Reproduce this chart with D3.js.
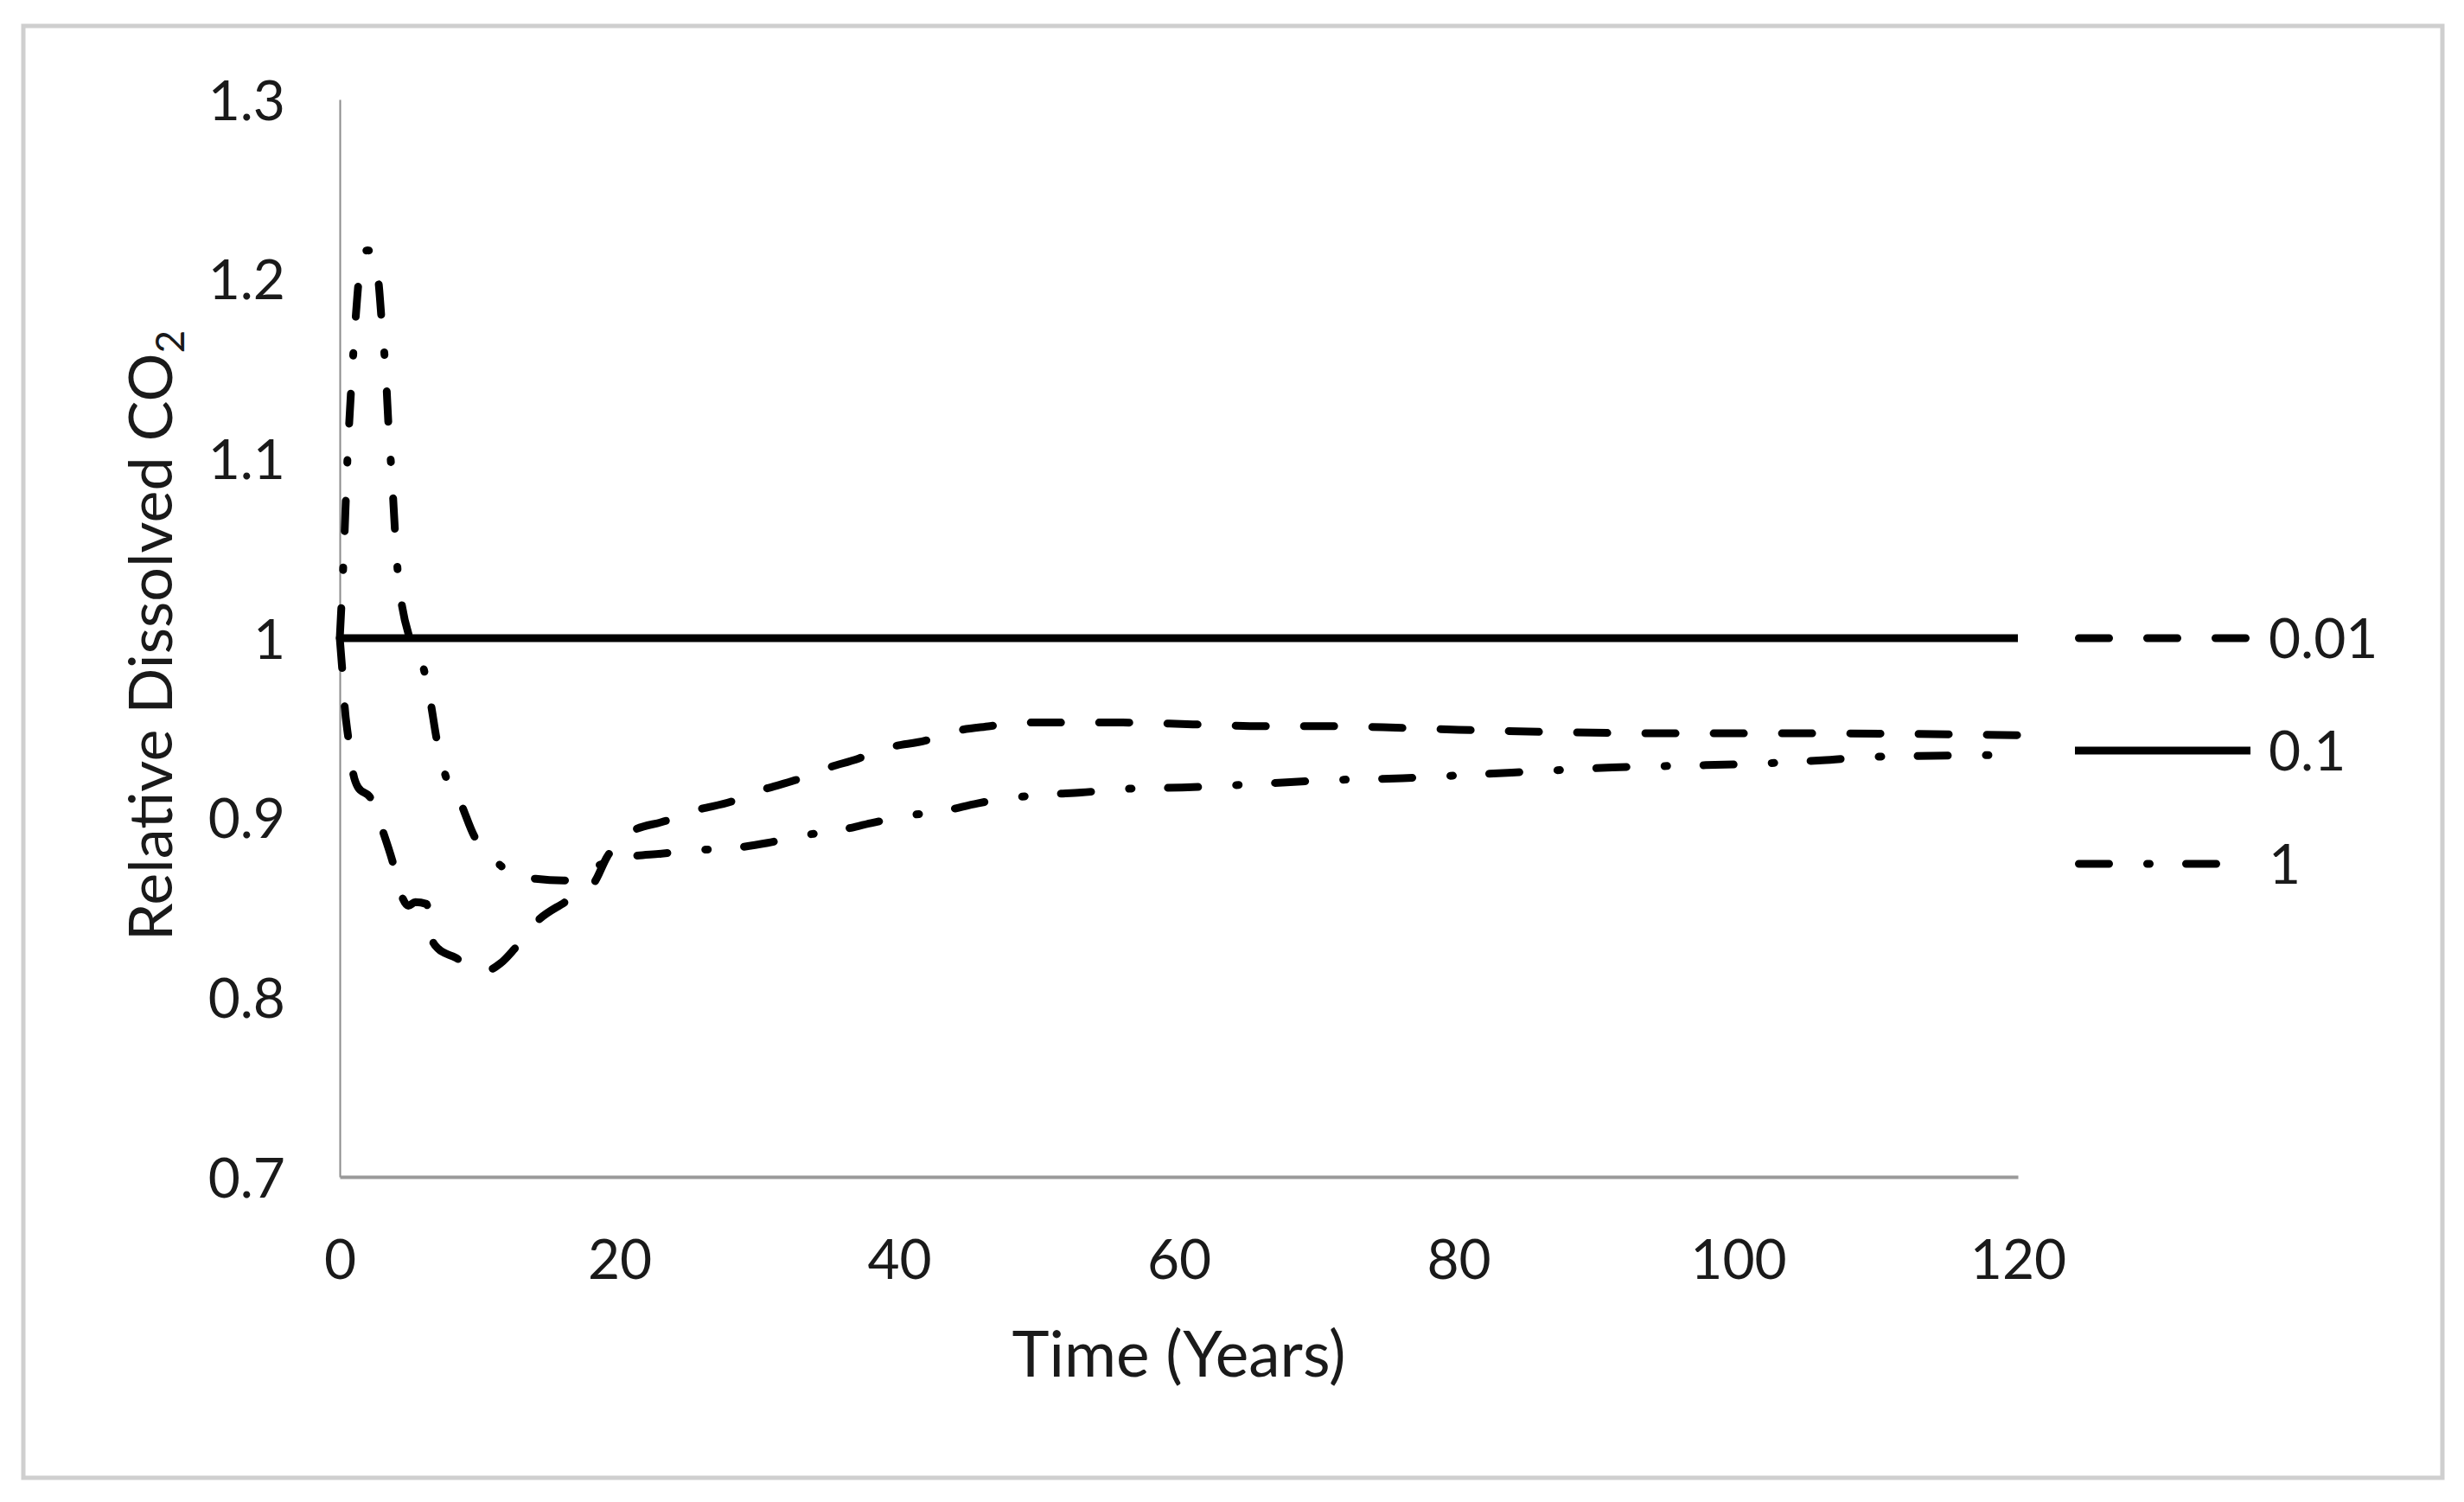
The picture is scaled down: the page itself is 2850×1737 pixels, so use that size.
<!DOCTYPE html>
<html>
<head>
<meta charset="utf-8">
<script src="https://cdn.jsdelivr.net/npm/d3@7"></script>
<style>
  html, body { margin: 0; padding: 0; background: #ffffff; }
  svg { display: block; }
  text { font-family: Lato, "Open Sans", sans-serif; fill: #1a1a1a; }
</style>
</head>
<body>
<svg id="chart" width="2850" height="1737"></svg>
<script>
// ---------------- data ----------------
const seriesNames = ["0.01", "0.1", "1"];

const years001 = [0, 0.2, 0.35, 0.6, 0.95, 1.3, 2.2, 3.1, 3.8, 4.45, 4.9, 5.4, 6.2, 6.6, 7.05, 8.3, 9.5, 10.5, 11.5, 12.5, 14.2, 16.1, 18.2, 19.1, 20.8, 23.2, 25.4, 28, 30, 32.6, 34.6, 37.1, 39.2, 41.9, 43.9, 46.5, 48.7, 51.3, 56, 61, 66, 71, 76, 80, 85, 95, 105, 120];
const values001 = [1.0, 0.98, 0.962, 0.945, 0.925, 0.917, 0.911, 0.892, 0.875, 0.856, 0.851, 0.853, 0.852, 0.832, 0.827, 0.822, 0.816, 0.815, 0.819, 0.827, 0.843, 0.853, 0.864, 0.878, 0.892, 0.898, 0.904, 0.909, 0.915, 0.921, 0.927, 0.933, 0.939, 0.943, 0.948, 0.951, 0.953, 0.953, 0.953, 0.952, 0.951, 0.951, 0.950, 0.949, 0.948, 0.947, 0.947, 0.946];

const years01 = [0, 120];
const values01 = [1.0, 1.0];

const years1 = [0, 0.25, 0.55, 0.9, 1.25, 1.55, 2.0, 2.4, 2.8, 3.0, 3.3, 3.5, 3.75, 3.96, 4.2, 4.45, 5.0, 6.0, 6.5, 6.9, 7.5, 8.6, 9.6, 10.5, 11.4, 12.5, 14, 16, 18, 20.5, 23, 25.6, 28, 30.6, 33, 35.7, 38, 40.5, 43.3, 45.6, 48, 50.7, 53, 56, 61, 66, 71, 76, 81, 86, 91, 96, 101, 106, 110, 114, 120];
const values1 = [1.0, 1.04, 1.1, 1.15, 1.19, 1.212, 1.216, 1.213, 1.196, 1.176, 1.146, 1.116, 1.087, 1.058, 1.032, 1.018, 1.0, 0.983, 0.964, 0.945, 0.925, 0.909, 0.89, 0.88, 0.874, 0.868, 0.866, 0.865, 0.872, 0.878, 0.880, 0.882, 0.883, 0.886, 0.890, 0.893, 0.897, 0.901, 0.904, 0.908, 0.911, 0.913, 0.914, 0.916, 0.917, 0.919, 0.921, 0.922, 0.924, 0.926, 0.928, 0.929, 0.930, 0.932, 0.934, 0.9345, 0.935];

const xTicks = [0, 20, 40, 60, 80, 100, 120];
const yTicks = [0.7, 0.8, 0.9, 1.0, 1.1, 1.2, 1.3];
const xTitle = "Time (Years)";
const yTitleMain = "Relative Dissolved CO";
const yTitleSub = "2";

// ---------------- layout ----------------
const svg = d3.select("#chart");
const plot = { left: 393, right: 2334, top: 115, bottom: 1361 };

const x = d3.scaleLinear().domain([0, 120]).range([plot.left, plot.right]);
const y = d3.scaleLinear().domain([0.7, 1.3]).range([plot.bottom, plot.top]);

// outer frame
svg.append("rect")
  .attr("x", 27).attr("y", 30)
  .attr("width", 2798).attr("height", 1679)
  .attr("fill", "#ffffff")
  .attr("stroke", "#cfcfcf")
  .attr("stroke-width", 5);

// y axis
const yAxis = d3.axisLeft(y).tickValues(yTicks).tickSize(0).tickSizeOuter(0)
  .tickFormat(d => String(+d.toFixed(1)));
const gy = svg.append("g").attr("transform", `translate(${plot.left},0)`).call(yAxis);
gy.select(".domain").attr("stroke", "#8c8c8c").attr("stroke-width", 2);
gy.selectAll(".tick text")
  .attr("x", -63).attr("dy", null).attr("y", 23)
  .style("font-size", "64px").style("font-family", "Lato, 'Open Sans', sans-serif").attr("fill", "#1a1a1a");

// x axis
const xAxis = d3.axisBottom(x).tickValues(xTicks).tickSize(0).tickSizeOuter(0)
  .tickFormat(d3.format("d"));
const gx = svg.append("g").attr("transform", `translate(0,${plot.bottom})`).call(xAxis);
gx.select(".domain").attr("stroke", "#9a9a9a").attr("stroke-width", 4);
gx.selectAll(".tick text")
  .attr("dy", null).attr("y", 118)
  .style("font-size", "64px").style("font-family", "Lato, 'Open Sans', sans-serif").attr("fill", "#1a1a1a");

// axis titles
svg.append("text")
  .attr("x", (plot.left + plot.right) / 2).attr("y", 1592)
  .attr("text-anchor", "middle")
  .style("font-size", "73px")
  .text(xTitle);

const yt = svg.append("text")
  .attr("transform", `translate(199,${(plot.top + plot.bottom) / 2 - 3}) rotate(-90)`)
  .attr("text-anchor", "middle")
  .style("font-size", "70px");
yt.append("tspan").text(yTitleMain);
yt.append("tspan").attr("dy", 14).style("font-size", "46px").text(yTitleSub);

// ---------------- series ----------------
const styles = {
  "0.01": { dash: "35,44", cap: "round" },
  "0.1":  { dash: null, cap: "butt" },
  "1":    { dash: "35,44,3,42", cap: "round" }
};
const seriesData = [
  { name: "0.01", pts: years001.map((t, i) => [t, values001[i]]) },
  { name: "0.1",  pts: years01.map((t, i) => [t, values01[i]]) },
  { name: "1",    pts: years1.map((t, i) => [t, values1[i]]) }
];

const line = d3.line().x(d => x(d[0])).y(d => y(d[1])).curve(d3.curveMonotoneX);

svg.append("g").selectAll("path")
  .data(seriesData)
  .join("path")
  .attr("d", d => line(d.pts))
  .attr("fill", "none")
  .attr("stroke", "#000")
  .attr("stroke-width", 9)
  .attr("stroke-linecap", d => styles[d.name].cap)
  .attr("stroke-linejoin", "round")
  .attr("stroke-dasharray", d => styles[d.name].dash);

// ---------------- legend ----------------
const legendRows = [738, 868, 999];
const leg = svg.append("g");
seriesNames.forEach((name, i) => {
  const st = styles[name];
  const cy = legendRows[i];
  const x0 = st.cap === "round" ? 2404.5 : 2400;
  const x1 = name === "0.1" ? 2603 : (name === "1" ? 2564 : 2598);
  leg.append("line")
    .attr("x1", x0).attr("x2", x1).attr("y1", cy).attr("y2", cy)
    .attr("stroke", "#000").attr("stroke-width", 9)
    .attr("stroke-linecap", st.cap)
    .attr("stroke-dasharray", st.dash);
  leg.append("text")
    .attr("x", 2624).attr("y", cy + 23)
    .style("font-size", "64px")
    .text(name);
});
</script>
</body>
</html>
